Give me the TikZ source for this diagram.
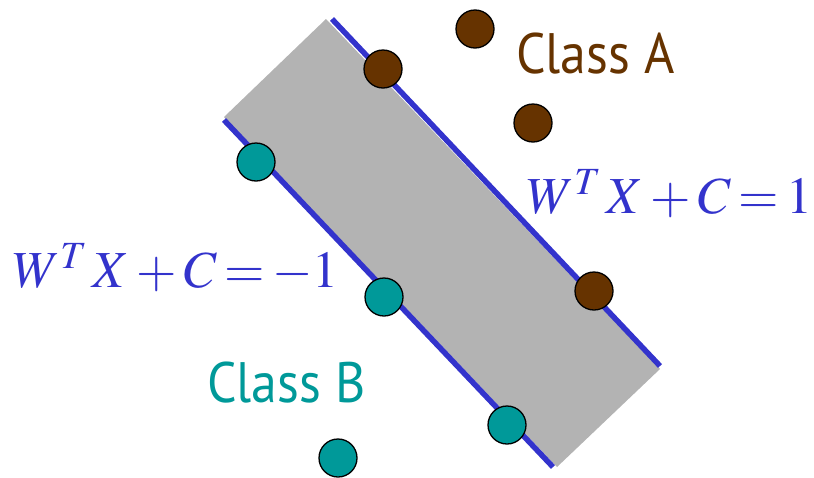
\documentclass[tikz,border=0pt]{standalone}
\usepackage{mathptmx}
\usepackage{fontspec}
\newfontfamily\classfont{PT Sans}
\definecolor{classA}{HTML}{663300}
\definecolor{classB}{HTML}{009999}
\definecolor{bound}{HTML}{3333CC}
\definecolor{margin}{HTML}{B3B3B3}
\newcommand{\tighteq}[1]{$\medmuskip=2.5mu\relax\thickmuskip=2.5mu\relax #1$}

\begin{document}
\begin{tikzpicture}[
  x=1pt, y=-1pt,
  dotA/.style={circle, draw=black, line width=1.3pt, fill=classA, minimum size=38pt, inner sep=0pt},
  dotB/.style={circle, draw=black, line width=1.3pt, fill=classB, minimum size=38pt, inner sep=0pt},
  edge/.style={draw=bound, line width=5.5pt},
  classlbl/.style={anchor=base west, inner sep=0pt, xscale=0.91, font=\classfont\fontsize{57}{60}\selectfont},
  eqlbl/.style={anchor=base west, inner sep=0pt, text=bound, font=\fontsize{52}{60}\selectfont}
]
\useasboundingbox (0,0) rectangle (814,477);
% margin band
\coordinate (mtop) at (326,19);
\coordinate (mright) at (660,369);
\coordinate (mbot) at (557,467);
\coordinate (mleft) at (224,117);
\fill[margin] (mtop) -- (mright) -- (mbot) -- (mleft) -- cycle;
% boundary lines
\coordinate (utop) at (332,19);
\coordinate (ubot) at (660,366);
\coordinate (ltop) at (224,120);
\coordinate (lbot) at (553,467);
\draw[edge] (utop) -- (ubot);
\draw[edge] (ltop) -- (lbot);
% class A points
\node[dotA] (a1) at (475,29) {};
\node[dotA] (a2) at (383,69) {};
\node[dotA] (a3) at (533,123) {};
\node[dotA] (a4) at (594,291) {};
% class B points
\node[dotB] (b1) at (256,162) {};
\node[dotB] (b2) at (384,297) {};
\node[dotB] (b3) at (507,425) {};
\node[dotB] (b4) at (338,458) {};
% labels
\node[classlbl, text=classA] (lblA) at (516,73) {Class A};
\node[classlbl, text=classB] (lblB) at (207,402) {Class B};
\node[eqlbl] (eqA) at (527,213) {\tighteq{W^T\,X + C = 1}};
\node[eqlbl] (eqB) at (13,287) {\tighteq{W^T\,X + C = -1}};
\end{tikzpicture}
\end{document}
